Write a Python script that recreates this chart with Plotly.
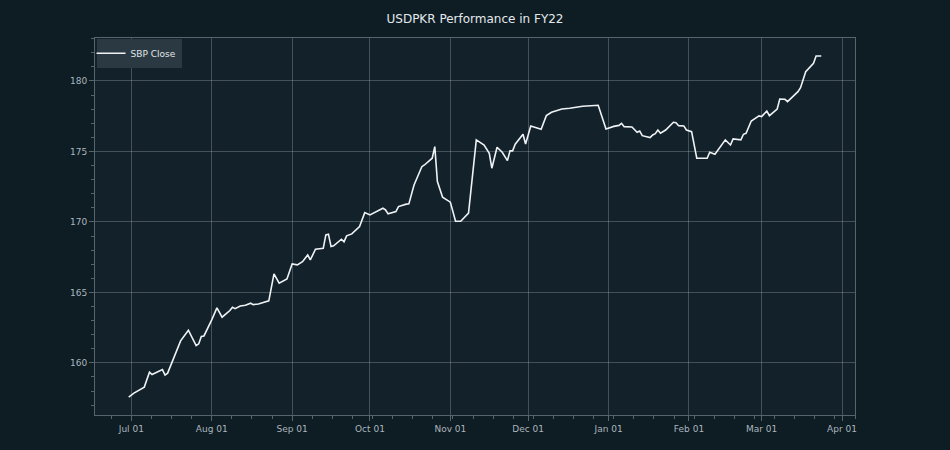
import plotly.graph_objects as go

dates = [
    "2021-06-30", "2021-07-02", "2021-07-06", "2021-07-08", "2021-07-09", "2021-07-13",
    "2021-07-14", "2021-07-15", "2021-07-20", "2021-07-23", "2021-07-26", "2021-07-27",
    "2021-07-28", "2021-07-29", "2021-08-01", "2021-08-03", "2021-08-05", "2021-08-08",
    "2021-08-09", "2021-08-10", "2021-08-12", "2021-08-14", "2021-08-16", "2021-08-17",
    "2021-08-19", "2021-08-23", "2021-08-25", "2021-08-27", "2021-08-30", "2021-09-01",
    "2021-09-03", "2021-09-05", "2021-09-07", "2021-09-08", "2021-09-10", "2021-09-13",
    "2021-09-14", "2021-09-15", "2021-09-16", "2021-09-17", "2021-09-20", "2021-09-21",
    "2021-09-22", "2021-09-24", "2021-09-27", "2021-09-29", "2021-10-01", "2021-10-04",
    "2021-10-06", "2021-10-07", "2021-10-08", "2021-10-11", "2021-10-12", "2021-10-15",
    "2021-10-16", "2021-10-18", "2021-10-21", "2021-10-22", "2021-10-25", "2021-10-26",
    "2021-10-27", "2021-10-29", "2021-11-01", "2021-11-03", "2021-11-05", "2021-11-08",
    "2021-11-11", "2021-11-14", "2021-11-16", "2021-11-17", "2021-11-19", "2021-11-21",
    "2021-11-23", "2021-11-24", "2021-11-25", "2021-11-26", "2021-11-29", "2021-11-30",
    "2021-12-02", "2021-12-06", "2021-12-08", "2021-12-10", "2021-12-14", "2021-12-17",
    "2021-12-21", "2021-12-22", "2021-12-28", "2021-12-31", "2022-01-03", "2022-01-05",
    "2022-01-06", "2022-01-07", "2022-01-10", "2022-01-12", "2022-01-13", "2022-01-14",
    "2022-01-17", "2022-01-18", "2022-01-19", "2022-01-20", "2022-01-21", "2022-01-23",
    "2022-01-26", "2022-01-27", "2022-01-28", "2022-01-30", "2022-01-31", "2022-02-02",
    "2022-02-04", "2022-02-08", "2022-02-09", "2022-02-11", "2022-02-15", "2022-02-17",
    "2022-02-18", "2022-02-21", "2022-02-22", "2022-02-23", "2022-02-25", "2022-02-28",
    "2022-03-01", "2022-03-03", "2022-03-04", "2022-03-07", "2022-03-08", "2022-03-10",
    "2022-03-11", "2022-03-15", "2022-03-16", "2022-03-18", "2022-03-21", "2022-03-22",
    "2022-03-24",
]

sbp_close = [
    157.57, 157.85, 158.28, 159.34, 159.17, 159.52,
    159.13, 159.27, 161.56, 162.32, 161.23, 161.35,
    161.87, 161.91, 163.05, 163.90, 163.24, 163.71,
    163.95, 163.85, 164.04, 164.09, 164.23, 164.13,
    164.18, 164.40, 166.31, 165.65, 165.95, 167.02,
    166.95, 167.18, 167.66, 167.30, 168.06, 168.13,
    169.08, 169.13, 168.25, 168.30, 168.77, 168.58,
    169.01, 169.15, 169.67, 170.66, 170.50, 170.78,
    170.97, 170.85, 170.57, 170.73, 171.09, 171.26,
    171.28, 172.62, 173.92, 174.04, 174.52, 175.34,
    172.86, 171.75, 171.40, 170.05, 170.05, 170.62,
    175.82, 175.46, 174.87, 173.81, 175.30, 174.94,
    174.35, 175.04, 175.04, 175.51, 176.22, 175.53,
    176.81, 176.57, 177.54, 177.78, 178.01, 178.06,
    178.16, 178.21, 178.28, 176.60, 176.78, 176.85,
    177.00, 176.76, 176.74, 176.36, 176.45, 176.12,
    175.99, 176.17, 176.26, 176.52, 176.29, 176.52,
    177.07, 177.04, 176.83, 176.81, 176.52, 176.40,
    174.52, 174.52, 174.94, 174.80, 175.82, 175.46,
    175.89, 175.82, 176.22, 176.29, 177.16, 177.52,
    177.47, 177.87, 177.54, 178.01, 178.72, 178.70,
    178.53, 179.24, 179.52, 180.66, 181.26, 181.77,
    181.77,
]

title_text = "USDPKR Performance in FY22"
series_name = "SBP Close"

paper_bg = "#0e1c24"
plot_bg = "#13212a"
grid_c = "rgba(200,210,215,0.28)"
spine_c = "#56646c"
tick_font_c = "#aab6bd"

fig = go.Figure()
fig.add_trace(go.Scatter(
    x=dates, y=sbp_close, mode="lines", name=series_name,
    line=dict(color="#eef2f4", width=1.6),
))

fig.update_layout(
    width=950, height=450,
    paper_bgcolor=paper_bg, plot_bgcolor=plot_bg,
    margin=dict(l=95, r=95, t=38, b=35),
    title=dict(text=title_text, x=0.5, xanchor="center", y=0.958, yanchor="middle",
               font=dict(family="DejaVu Sans", size=12, color="#e4e9ec")),
    font=dict(family="DejaVu Sans", size=9, color=tick_font_c),
    showlegend=True,
    legend=dict(x=0.002, y=0.998, xanchor="left", yanchor="top",
                bgcolor="#2b3a42", bordercolor="#2b3a42", borderwidth=0,
                font=dict(family="DejaVu Sans", size=9, color="#e0e6ea"),
                itemwidth=30, tracegroupgap=0, indentation=-6),
)

fig.update_xaxes(
    type="date",
    range=["2021-06-17", "2022-04-06"],
    tickformat="%b %d", dtick="M1", tick0="2021-07-01",
    showgrid=True, gridcolor=grid_c, gridwidth=1,
    showline=True, linecolor=spine_c, linewidth=1, mirror=True,
    ticks="outside", ticklen=5, tickcolor=spine_c, tickwidth=1,
    tickfont=dict(family="DejaVu Sans", size=9, color=tick_font_c),
    minor=dict(dtick=7.75 * 86400000, tick0="2021-07-01", ticks="outside",
               ticklen=3, tickcolor=spine_c, showgrid=False),
    zeroline=False,
)
fig.update_yaxes(
    range=[156.3, 183.05],
    dtick=5, tick0=160,
    showgrid=True, gridcolor=grid_c, gridwidth=1,
    showline=True, linecolor=spine_c, linewidth=1, mirror=True,
    ticks="outside", ticklen=5, tickcolor=spine_c, tickwidth=1,
    tickfont=dict(family="DejaVu Sans", size=9, color=tick_font_c),
    minor=dict(dtick=1, ticks="outside", ticklen=3, tickcolor=spine_c, showgrid=False),
    zeroline=False,
)

fig.write_html("out.html")
